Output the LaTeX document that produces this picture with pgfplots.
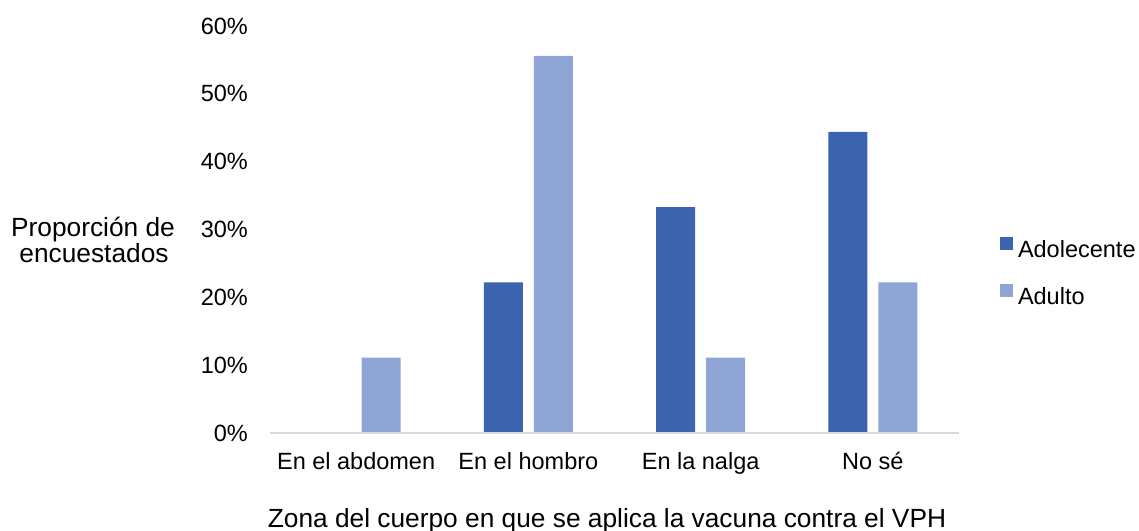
\documentclass[border=0pt]{standalone}
\usepackage{pgfplots}
\pgfplotsset{compat=1.18}
\usepackage{fontspec}
\setmainfont{Liberation Sans}
\definecolor{adol}{RGB}{61,100,174}
\definecolor{adul}{RGB}{143,165,213}
\definecolor{axisgray}{RGB}{217,217,217}
\begin{document}
\begin{tikzpicture}[font=\fontsize{23.5bp}{27bp}\selectfont]
\path[use as bounding box] (0,0) rectangle (1139bp,531bp);
\begin{axis}[
  at={(270bp,98bp)}, anchor=south west,
  scale only axis, width=689bp, height=407bp,
  xmin=-0.5, xmax=3.5, ymin=0, ymax=60,
  axis on top,
  axis x line*=bottom, axis y line*=left,
  y axis line style={draw=none},
  x axis line style={draw=axisgray, line width=1.5bp},
  ytick={0,10,...,60},
  yticklabel={\pgfmathprintnumber{\tick}\%},
  xtick={0,1,2,3},
  xticklabels={En el abdomen, En el hombro, En la nalga, No sé},
  tick style={draw=none}, major tick length=0pt,
  /pgf/number format/assume math mode=true,
  yticklabel style={anchor=east, inner sep=0pt, xshift=-22bp},
  xticklabel style={anchor=north, inner sep=0pt, yshift=-19bp},
  ybar, bar width=39bp,
  legend style={draw=none, fill=none, inner sep=0pt, outer sep=0pt,
    at={(axis description cs:1.0595,0.397)}, anchor=west,
    nodes={inner sep=0pt}, row sep=25bp,
    /tikz/every odd column/.append style={column sep=5bp}},
  legend cell align=left,
  legend image code/.code={\fill[#1] (0bp,0bp) rectangle (13bp,13bp);},
]
\addplot[fill=adol, draw=none, bar shift=-25bp] coordinates {(0,0) (1,22.2) (2,33.3) (3,44.4)};
\addplot[fill=adul, draw=none, bar shift=25bp] coordinates {(0,11.1) (1,55.6) (2,11.1) (3,22.2)};
\legend{Adolecente, Adulto}
\end{axis}
\begin{scope}[font=\fontsize{26.3bp}{30bp}\selectfont]
\node[anchor=base] at (607bp,3.7bp) {Zona del cuerpo en que se aplica la vacuna contra el VPH};
\node[anchor=base] at (93bp,294.5bp) {Proporción de};
\node[anchor=base] at (94bp,268bp) {encuestados};
\end{scope}
\end{tikzpicture}
\end{document}
